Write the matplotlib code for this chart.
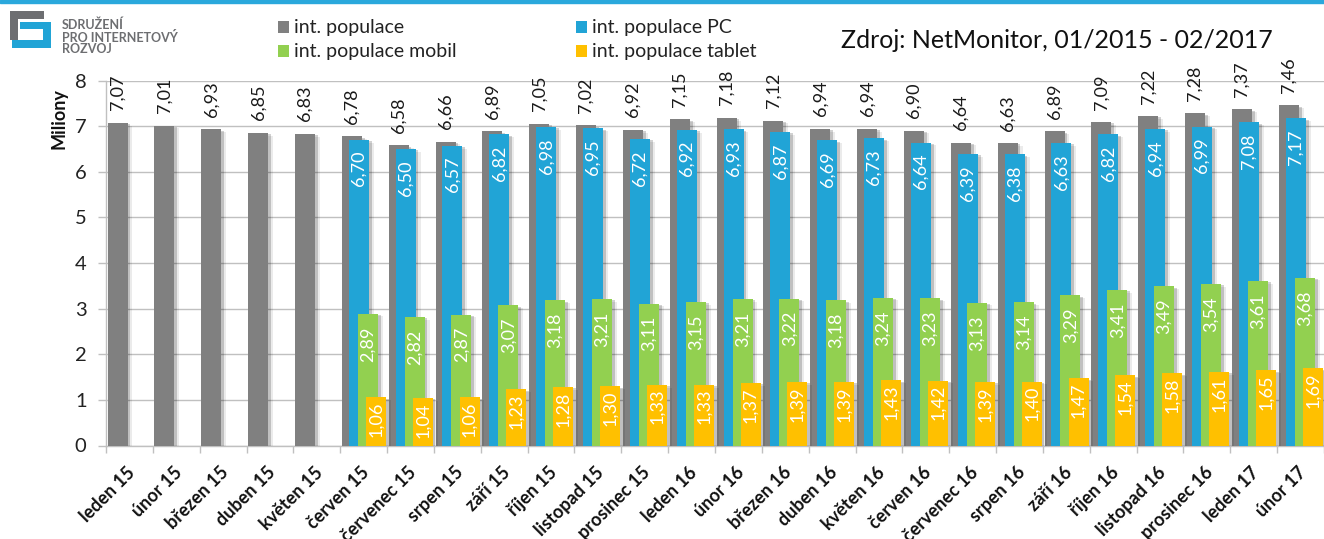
import numpy as np
import matplotlib
matplotlib.use("Agg")
import matplotlib.pyplot as plt
from matplotlib import patheffects
from matplotlib.patches import Rectangle
from matplotlib.transforms import ScaledTranslation

plt.rcParams['font.family'] = ['Lato', 'DejaVu Sans']

months = ["leden 15", "únor 15", "březen 15", "duben 15", "květen 15", "červen 15",
          "červenec 15", "srpen 15", "září 15", "říjen 15", "listopad 15", "prosinec 15",
          "leden 16", "únor 16", "březen 16", "duben 16", "květen 16", "červen 16",
          "červenec 16", "srpen 16", "září 16", "říjen 16", "listopad 16", "prosinec 16",
          "leden 17", "únor 17"]
populace = [7.07, 7.01, 6.93, 6.85, 6.83, 6.78, 6.58, 6.66, 6.89, 7.05, 7.02, 6.92,
            7.15, 7.18, 7.12, 6.94, 6.94, 6.90, 6.64, 6.63, 6.89, 7.09, 7.22, 7.28, 7.37, 7.46]
device_first_month = "červen 15"
populace_pc = [6.70, 6.50, 6.57, 6.82, 6.98, 6.95, 6.72, 6.92, 6.93, 6.87, 6.69, 6.73,
               6.64, 6.39, 6.38, 6.63, 6.82, 6.94, 6.99, 7.08, 7.17]
populace_mobil = [2.89, 2.82, 2.87, 3.07, 3.18, 3.21, 3.11, 3.15, 3.21, 3.22, 3.18, 3.24,
                  3.23, 3.13, 3.14, 3.29, 3.41, 3.49, 3.54, 3.61, 3.68]
populace_tablet = [1.06, 1.04, 1.06, 1.23, 1.28, 1.30, 1.33, 1.33, 1.37, 1.39, 1.39, 1.43,
                   1.42, 1.39, 1.40, 1.47, 1.54, 1.58, 1.61, 1.65, 1.69]
series_names = ["int. populace", "int. populace PC", "int. populace mobil", "int. populace tablet"]
y_ticks = [0, 1, 2, 3, 4, 5, 6, 7, 8]
title = "Zdroj: NetMonitor, 01/2015 - 02/2017"
y_label = "Miliony"
logo_lines = ["SDRUŽENÍ", "PRO INTERNETOVÝ", "ROZVOJ"]

C_GRAY = "#808080"
C_BLUE = "#21a4d6"
C_GREEN = "#92d050"
C_YELLOW = "#ffc000"
GRID = "#c0c0c0"

W, H = 1324, 539
fig = plt.figure(figsize=(W / 100, H / 100), dpi=100)
ax = fig.add_axes([106 / W, 1 - 445.5 / H, (1324 - 106) / W, (445.5 - 80.5) / H])

n = len(months)
x_all = np.arange(n)
start = months.index(device_first_month)
x_dev = x_all[start:]

bw = 0.427
shadow = [patheffects.SimplePatchShadow(offset=(2.0, -1.0), shadow_rgbFace='black', alpha=0.18),
          patheffects.SimplePatchShadow(offset=(3.5, -2.0), shadow_rgbFace='black', alpha=0.08),
          patheffects.Normal()]


def fmt(v):
    return f"{v:.2f}".replace('.', ',')


series = [
    (x_all, populace, C_GRAY, 0.034),
    (x_dev, populace_pc, C_BLUE, 0.183),
    (x_dev, populace_mobil, C_GREEN, 0.375),
    (x_dev, populace_tablet, C_YELLOW, 0.546),
]
for xs, vals, col, off in series:
    bars = ax.bar(xs + off, vals, width=bw, align='edge', color=col, zorder=3)
    for b in bars:
        b.set_path_effects(shadow)

LBL = 13
for xs, vals, col, off in series:
    for xi, v in zip(xs, vals):
        cx = xi + off + bw / 2
        if col == C_GRAY:
            ax.annotate(fmt(v), (cx, v), xytext=(0, 9.0), textcoords='offset points',
                        rotation=90, ha='center', va='bottom', fontsize=LBL,
                        color='#1a1a1a', annotation_clip=False, zorder=5)
        else:
            dy = {C_BLUE: -8.0, C_GREEN: -9.0, C_YELLOW: -3.0}[col]
            ax.annotate(fmt(v), (cx, v), xytext=(0, dy), textcoords='offset points',
                        rotation=90, ha='center', va='top', fontsize=LBL,
                        color='white', zorder=5)

ax.set_xlim(0, n)
ax.set_ylim(0, 8)
ax.set_yticks(y_ticks)
ax.set_yticklabels([str(t) for t in y_ticks], fontsize=14.5, color='#222222')
ax.tick_params(axis='y', length=6, width=1, color=GRID, pad=8)
ax.set_xticks(x_all + 0.5)
ax.set_xticklabels(months, rotation=45, ha='right', va='top', rotation_mode='anchor',
                   fontsize=13, fontweight='bold', color='#111111')
ax.tick_params(axis='x', which='major', length=0, pad=13)
shift = ScaledTranslation(-3 / 100, 0, fig.dpi_scale_trans)
for lab in ax.get_xticklabels():
    lab.set_transform(lab.get_transform() + shift)
ax.set_xticks(np.arange(n + 1), minor=True)
ax.tick_params(axis='x', which='minor', length=5, width=1, color=GRID)
ax.yaxis.grid(True, color=GRID, lw=1, zorder=0)
ax.set_axisbelow(True)
for s in ['top', 'right']:
    ax.spines[s].set_visible(False)
for s in ['left', 'bottom']:
    ax.spines[s].set_color(GRID)
    ax.spines[s].set_linewidth(1)

fig.text(59 / W, 1 - 119 / H, y_label, rotation=90, ha='center', va='center',
         fontsize=13, fontweight='bold', color='#111111')

# top blue line
fig.patches.append(Rectangle((0, 1 - 3 / H), 1, 3 / H, transform=fig.transFigure,
                             color='#2aa8dc', zorder=10))


def frect(x0, y0, w, h, c):
    fig.patches.append(Rectangle((x0 / W, 1 - (y0 + h) / H), w / W, h / H,
                                 transform=fig.transFigure, color=c, lw=0))


# logo
LG = '#6d6e71'
LB = '#21a4d6'
frect(10, 11, 34, 8, LG)
frect(10, 11, 8, 29, LG)
frect(20, 22, 31, 7, LB)
frect(43, 22, 8, 26, LB)
frect(12, 40, 39, 8, LB)
for i, line in enumerate(logo_lines):
    fig.text(62 / W, 1 - (25 + i * 12) / H, line, ha='left', va='center',
             fontsize=9, fontweight='bold', color=LG)

# legend
leg_items = [(278, 27, C_GRAY, series_names[0]), (576, 27, C_BLUE, series_names[1]),
             (278, 51, C_GREEN, series_names[2]), (576, 51, C_YELLOW, series_names[3])]
for lx, ly, col, name in leg_items:
    frect(lx, ly - 5.5, 11, 11, col)
    fig.text((lx + 16) / W, 1 - ly / H, name, ha='left', va='center', fontsize=14,
             color='#222222')

fig.text(1057 / W, 1 - 40 / H, title, ha='center', va='center', fontsize=18,
         color='#111111')

fig.savefig("out.png", dpi=100)
